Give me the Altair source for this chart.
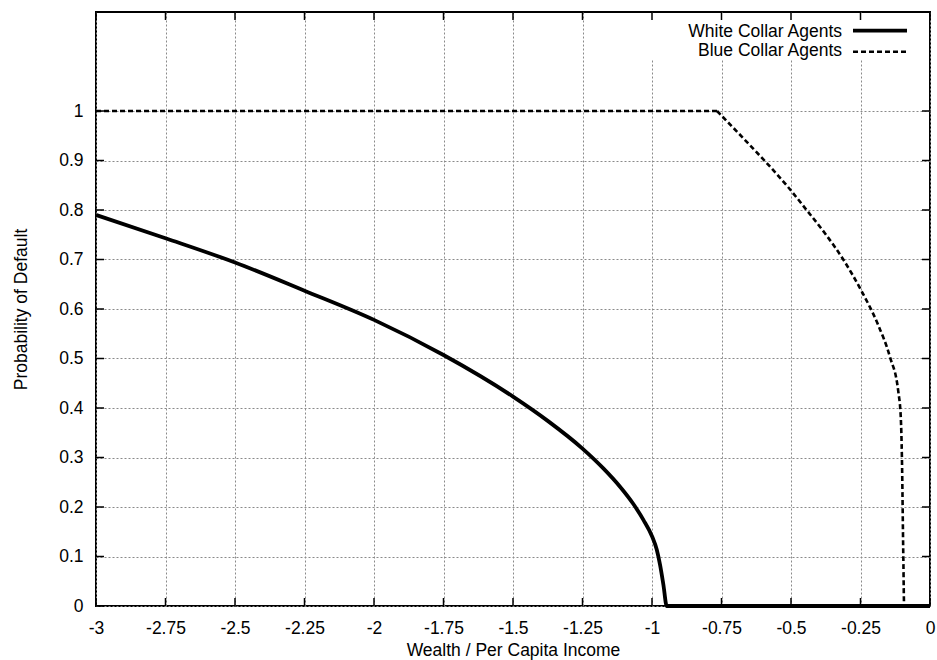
import altair as alt
import pandas as pd

# ---- data ----
white_x = [-3.0, -2.75, -2.5, -2.25, -2.0, -1.75, -1.5, -1.375, -1.25, -1.175, -1.115, -1.067, -1.031,
           -1.0, -0.983, -0.971, -0.959, -0.947, 0.0]
white_y = [0.790, 0.743, 0.694, 0.637, 0.578, 0.507, 0.423, 0.374, 0.318, 0.278, 0.241, 0.206, 0.174,
           0.141, 0.114, 0.083, 0.043, 0.0, 0.0]

# flat part of the blue-collar curve, then the curved part
blue_flat_x = [-3.0, -0.766]
blue_flat_y = [1.0, 1.0]
blue_x = [-0.766, -0.7075, -0.636, -0.576, -0.510, -0.444, -0.378, -0.312, -0.246, -0.186, -0.144,
          -0.114, -0.105, -0.101, -0.096, -0.093, 0.0]
blue_y = [1.0, 0.966, 0.924, 0.888, 0.846, 0.800, 0.753, 0.700, 0.636, 0.567, 0.503,
          0.433, 0.380, 0.300, 0.100, 0.0, 0.0]

series_names = ["White Collar Agents", "Blue Collar Agents"]
x_ticks = [-3, -2.75, -2.5, -2.25, -2, -1.75, -1.5, -1.25, -1, -0.75, -0.5, -0.25, 0]
y_ticks = [0, 0.1, 0.2, 0.3, 0.4, 0.5, 0.6, 0.7, 0.8, 0.9, 1]
x_title = "Wealth / Per Capita Income"
y_title = "Probability of Default"

FONT = "Liberation Sans"
FS = 17.5
W, H = 834, 594

white_df = pd.DataFrame({"x": white_x, "y": white_y, "series": series_names[0]})
blue_flat_df = pd.DataFrame({"x": blue_flat_x, "y": blue_flat_y, "series": series_names[1]})
blue_df = pd.DataFrame({"x": blue_x, "y": blue_y, "series": series_names[1]})
xt_df = pd.DataFrame({"v": x_ticks})
yt_df = pd.DataFrame({"v": y_ticks})
one = pd.DataFrame({"a": [0]})

xscale = alt.Scale(domain=[-3, 0], nice=False, zero=False)
yscale = alt.Scale(domain=[0, 1.2], nice=False, zero=False)

common = dict(
    grid=True, gridColor="#8a8a8a", gridDash=[2, 2], gridWidth=1,
    domain=False, ticks=False, tickSize=0, labelPadding=13,
    labelFont=FONT, labelFontSize=FS, labelColor="black", labelFontWeight="normal",
    titleFont=FONT, titleFontSize=FS, titleColor="black", titleFontWeight="normal",
    labelFlush=False, labelOverlap=False, labelExpr="'' + datum.value",
)
x_axis = alt.Axis(values=x_ticks, title=x_title, titleY=49, titleBaseline="alphabetic", **common)
y_axis = alt.Axis(values=y_ticks, title=y_title, titleX=-70, titleY=H / 2, titleBaseline="alphabetic",
                  titleAngle=270, titleAlign="center", **common)

base_axes = alt.Chart(xt_df).mark_point(opacity=0).encode(
    x=alt.X("v:Q", scale=xscale, axis=x_axis),
    y=alt.Y("v2:Q", scale=yscale, axis=y_axis),
).transform_calculate(v2="0")

# blank area behind the key
key_bg = alt.Chart(one).mark_rect(color="white").encode(
    x=alt.value(540), x2=alt.value(833), y=alt.value(1), y2=alt.value(47)
)

DASH = [5, 3]
BW = 2.6
WW = 3.8

blue_flat = alt.Chart(blue_flat_df).mark_line(
    color="black", strokeWidth=BW, strokeDash=DASH, interpolate="linear"
).encode(x=alt.X("x:Q", scale=xscale), y=alt.Y("y:Q", scale=yscale))

blue_line = alt.Chart(blue_df).mark_line(
    color="black", strokeWidth=BW, strokeDash=DASH, interpolate="monotone"
).encode(x=alt.X("x:Q", scale=xscale), y=alt.Y("y:Q", scale=yscale))

white_line = alt.Chart(white_df).mark_line(
    color="black", strokeWidth=WW, interpolate="monotone"
).encode(x=alt.X("x:Q", scale=xscale), y=alt.Y("y:Q", scale=yscale))

TL = 8
tick_style = dict(color="black", strokeWidth=1.5)
xt_bottom = alt.Chart(xt_df).mark_rule(**tick_style).encode(
    x=alt.X("v:Q", scale=xscale), y=alt.value(H), y2=alt.value(H - TL))
xt_top = alt.Chart(xt_df).mark_rule(**tick_style).encode(
    x=alt.X("v:Q", scale=xscale), y=alt.value(0), y2=alt.value(TL))
yt_left = alt.Chart(yt_df).mark_rule(**tick_style).encode(
    y=alt.Y("v:Q", scale=yscale), x=alt.value(0), x2=alt.value(TL))
yt_right = alt.Chart(yt_df).mark_rule(**tick_style).encode(
    y=alt.Y("v:Q", scale=yscale), x=alt.value(W), x2=alt.value(W - TL))

# key
key_text1 = alt.Chart(one).mark_text(align="right", baseline="alphabetic", font=FONT, fontSize=FS, color="black").encode(
    x=alt.value(746), y=alt.value(25), text=alt.value(series_names[0]))
key_text2 = alt.Chart(one).mark_text(align="right", baseline="alphabetic", font=FONT, fontSize=FS, color="black").encode(
    x=alt.value(746), y=alt.value(43.5), text=alt.value(series_names[1]))
key_line1 = alt.Chart(one).mark_rule(color="black", strokeWidth=WW).encode(
    x=alt.value(757), x2=alt.value(811), y=alt.value(18.7))
key_line2 = alt.Chart(one).mark_rule(color="black", strokeWidth=BW, strokeDash=DASH).encode(
    x=alt.value(757), x2=alt.value(811), y=alt.value(39.7))

chart = alt.layer(
    base_axes, key_bg, blue_flat, blue_line, white_line,
    xt_bottom, xt_top, yt_left, yt_right,
    key_text1, key_text2, key_line1, key_line2,
).properties(
    width=W, height=H,
    autosize=alt.AutoSizeParams(type="none"),
    padding={"left": 96, "top": 12, "right": 7, "bottom": 54},
    background="white",
).configure_view(stroke="black", strokeWidth=2)

chart.save("out.html", embed_options={"renderer": "svg", "actions": False})
